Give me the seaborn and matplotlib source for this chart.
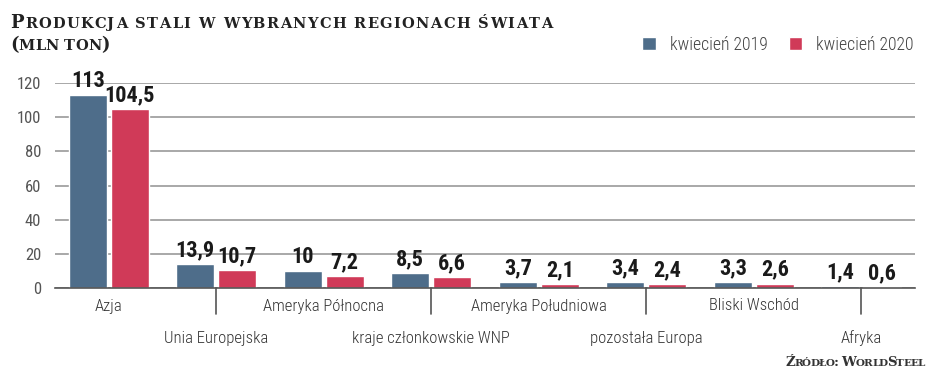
import pandas as pd
import seaborn as sns
import matplotlib.pyplot as plt
from matplotlib.transforms import IdentityTransform

# Data (mln ton)
regions = ['Azja', 'Unia Europejska', 'Ameryka Północna', 'kraje członkowskie WNP',
           'Ameryka Południowa', 'pozostała Europa', 'Bliski Wschód', 'Afryka']
apr_2019 = [113, 13.9, 10, 8.5, 3.7, 3.4, 3.3, 1.4]
apr_2020 = [104.5, 10.7, 7.2, 6.6, 2.1, 2.4, 2.6, 0.6]
series = ['kwiecień 2019', 'kwiecień 2020']
y_ticks = [0, 20, 40, 60, 80, 100, 120]

df = pd.DataFrame({'region': regions * 2,
                   'okres': [series[0]] * len(regions) + [series[1]] * len(regions),
                   'value': apr_2019 + apr_2020})

blue = '#4e6d8a'
red = '#d03a58'

sns.set_style('white')
plt.rcParams['font.family'] = ['Roboto Condensed', 'Roboto', 'DejaVu Sans']

W, H = 948, 384
fig = plt.figure(figsize=(W / 100, H / 100), dpi=100)
ax = fig.add_axes([55 / W, 1 - 288 / H, 860 / W, 205 / H])

sns.barplot(data=df, x='region', y='value', hue='okres', order=regions,
            hue_order=series, palette=[blue, red], width=0.78, gap=0.1,
            saturation=1, ax=ax)

ax.set_xlim(-0.5, 7.5)
ax.set_ylim(0, 120)
ax.set_yticks(y_ticks)
ax.set_yticklabels([str(t) for t in y_ticks], fontsize=12, color='#555555')
ax.tick_params(axis='y', length=0, pad=10)
ax.yaxis.grid(True, color='#9a9a9a', linewidth=1.2)
ax.set_axisbelow(True)
for s in ['top', 'right', 'left']:
    ax.spines[s].set_visible(False)
ax.spines['bottom'].set_color('#555555')
ax.spines['bottom'].set_linewidth(1.2)
ax.set_xlabel('')
ax.set_ylabel('')

# category labels in two rows, separator ticks at even groups
ax.set_xticks([])
for i, name in enumerate(regions):
    off = -18 if i % 2 == 0 else -50
    ax.annotate(name, xy=(i, 0), xycoords='data', xytext=(0, off),
                textcoords='offset pixels', ha='center', va='center',
                fontsize=12, fontweight='light', color='#333333',
                annotation_clip=False)
    if i % 2 == 1:
        ax.plot([i, i], [0, -15], color='#555555', linewidth=1.2, clip_on=False)

# value labels
for cont in ax.containers:
    labels = [f'{v:g}'.replace('.', ',') for v in cont.datavalues]
    ax.bar_label(cont, labels=labels, padding=2, fontsize=16, fontweight='bold',
                 color='#1a1a1a')

# legend
sns.move_legend(ax, 'center right', bbox_to_anchor=(930 / W, 1 - 45 / H),
                bbox_transform=fig.transFigure, ncol=2, frameon=False, title=None,
                fontsize=12.8, handlelength=0.75, handleheight=0.75,
                columnspacing=1.2, handletextpad=0.8)
for t in ax.get_legend().get_texts():
    t.set_color('#444444')
    t.set_fontweight('light')


def small_caps(x, y, text, big, small, width, color='#222222'):
    # small caps: lowercase letters drawn as smaller capitals, spread to a given width
    renderer = fig.canvas.get_renderer()
    items = []
    for ch in text:
        size = small if ch.islower() else big
        t = fig.text(0, 0, ch.upper(), fontsize=size, fontweight='bold',
                     family='DejaVu Serif', color=color, va='baseline',
                     transform=IdentityTransform())
        if ch == ' ':
            w = 0.3 * size * 100 / 72
        else:
            w = t.get_window_extent(renderer).width
        items.append((t, w))
    natural = sum(w for _, w in items)
    track = (width - natural) / max(len(items) - 1, 1)
    cx = x
    for t, w in items:
        t.set_position((cx, H - y))
        cx += w + track


small_caps(10, 28, 'Produkcja stali w wybranych regionach świata', 13, 10.5, 542)
small_caps(10, 50, '(mln ton)', 13, 10.5, 100)
small_caps(785, 366, 'Źródło: WorldSteel', 9.5, 7.5, 140, color='#333333')

fig.savefig('out.png', dpi=100)
